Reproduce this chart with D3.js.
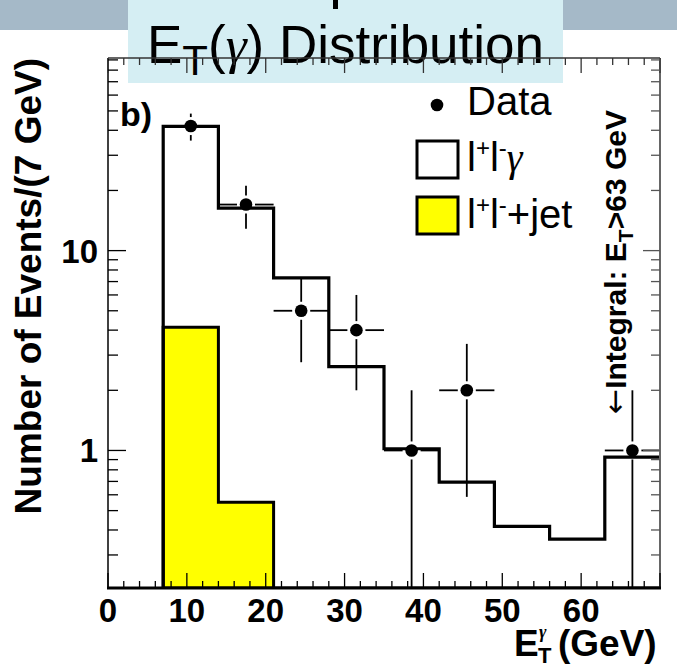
<!DOCTYPE html>
<html>
<head>
<meta charset="utf-8">
<script src="https://cdn.jsdelivr.net/npm/d3@7"></script>
<style>
  html, body { margin: 0; padding: 0; background: #fff; }
  svg { display: block; }
  text { font-family: "Liberation Sans", Arial, sans-serif; }
</style>
</head>
<body>
<div id="chart"></div>
<script>
// bin edges in GeV (7 GeV bins)
const binEdges = [7, 14, 21, 28, 35, 42, 49, 56, 63, 70]
// l+l-gamma expectation per bin
const llGamma = [41.8, 16.3, 7.3, 2.63, 1.02, 0.694, 0.417, 0.36, 0.926]
// l+l-+jet background per bin
const llJet = [4.14, 0.55, 0, 0, 0, 0, 0, 0, 0]
// observed events per bin
const dataCounts = [42, 17, 5, 4, 1, 2, 0, 0, 1]
// tick labels
const xTickLabels = [0, 10, 20, 30, 40, 50, 60]
const yTickLabels = [1, 10]

const W = 677, H = 669
const frame = { left: 108, right: 660, top: 58, bottom: 588 }
const serif = '"Liberation Serif", "DejaVu Serif", serif'

const svg = d3.select('#chart').append('svg')
  .attr('width', W)
  .attr('height', H)

// header band + title box
svg.append('rect').attr('x', 0).attr('y', 0).attr('width', W).attr('height', 30).attr('fill', '#a5b9c8')
svg.append('rect').attr('x', 128).attr('y', 0).attr('width', 435).attr('height', 83).attr('fill', '#d5eef3')
svg.append('rect').attr('x', 333).attr('y', 0).attr('width', 5).attr('height', 9).attr('fill', '#000')

const title = svg.append('text')
  .attr('x', 147).attr('y', 63)
  .attr('font-size', 53)
  .attr('fill', '#000')
title.append('tspan').text('E')
title.append('tspan').attr('font-size', 42).attr('dy', 12).text('T')
title.append('tspan').attr('dy', -12).text('(')
title.append('tspan').attr('font-family', serif).attr('font-style', 'italic').text('γ')
title.append('tspan').text(') Distribution')

// scales
const x = d3.scaleLinear().domain([0, 70]).range([frame.left, frame.right])
const y = d3.scaleLog().domain([0.205, 92]).range([frame.bottom, frame.top])

svg.append('defs').append('clipPath').attr('id', 'plot-clip')
  .append('rect')
  .attr('x', frame.left).attr('y', frame.top)
  .attr('width', frame.right - frame.left).attr('height', frame.bottom - frame.top)

const plot = svg.append('g').attr('clip-path', 'url(#plot-clip)')

// step outline from bin values
function stepPoints(values) {
  const pts = [[x(binEdges[0]), frame.bottom]]
  values.forEach((v, i) => {
    const yy = v > 0 ? y(v) : frame.bottom
    pts.push([x(binEdges[i]), yy])
    pts.push([x(binEdges[i + 1]), yy])
  })
  return pts
}

const line = d3.line()

// l+l-+jet filled histogram
const jetPts = stepPoints(llJet)
jetPts.push([x(binEdges[binEdges.length - 1]), frame.bottom])
plot.append('path')
  .attr('d', line(jetPts) + 'Z')
  .attr('fill', '#ffff00')
  .attr('stroke', '#000')
  .attr('stroke-width', 3)

// l+l-gamma histogram outline
plot.append('path')
  .attr('d', line(stepPoints(llGamma)))
  .attr('fill', 'none')
  .attr('stroke', '#000')
  .attr('stroke-width', 3.2)

// data points with poisson errors
const pts = dataCounts.map((n, i) => ({
  n,
  lo: binEdges[i],
  hi: binEdges[i + 1],
  c: (binEdges[i] + binEdges[i + 1]) / 2
})).filter(d => d.n > 0)

const gap = 9
const errG = plot.append('g').attr('stroke', '#000').attr('stroke-width', 1.8)
pts.forEach(d => {
  const cx = x(d.c), cy = y(d.n)
  const e = Math.sqrt(d.n)
  const yUp = y(d.n + e)
  const yLo = d.n - e > 0.205 ? y(d.n - e) : frame.bottom
  errG.append('line').attr('x1', x(d.lo)).attr('x2', cx - gap).attr('y1', cy).attr('y2', cy)
  errG.append('line').attr('x1', cx + gap).attr('x2', x(d.hi)).attr('y1', cy).attr('y2', cy)
  errG.append('line').attr('x1', cx).attr('x2', cx).attr('y1', yUp).attr('y2', cy - gap)
  errG.append('line').attr('x1', cx).attr('x2', cx).attr('y1', cy + gap).attr('y2', yLo)
})
plot.append('g').selectAll('circle')
  .data(pts)
  .join('circle')
  .attr('cx', d => x(d.c))
  .attr('cy', d => y(d.n))
  .attr('r', 6.3)
  .attr('fill', '#000')

// frame
const axG = svg.append('g')
axG.append('line').attr('x1', frame.left).attr('x2', frame.left).attr('y1', frame.top).attr('y2', frame.bottom)
  .attr('stroke', '#000').attr('stroke-width', 1.5)
axG.append('line').attr('x1', frame.left).attr('x2', frame.right).attr('y1', frame.top).attr('y2', frame.top)
  .attr('stroke', '#333').attr('stroke-width', 1.5)
axG.append('line').attr('x1', frame.right).attr('x2', frame.right).attr('y1', frame.top).attr('y2', frame.bottom)
  .attr('stroke', '#666').attr('stroke-width', 2)
axG.append('line').attr('x1', frame.left - 1).attr('x2', frame.right + 1).attr('y1', frame.bottom).attr('y2', frame.bottom)
  .attr('stroke', '#000').attr('stroke-width', 3)

// x ticks (bottom and top)
const xt = x.ticks(35)
axG.selectAll('.xtb').data(xt).join('line')
  .attr('x1', d => x(d)).attr('x2', d => x(d))
  .attr('y1', frame.bottom)
  .attr('y2', d => frame.bottom - (d % 10 === 0 ? 15 : 7))
  .attr('stroke', '#000').attr('stroke-width', 1.3)
axG.selectAll('.xtt').data(xt).join('line')
  .attr('x1', d => x(d)).attr('x2', d => x(d))
  .attr('y1', frame.top)
  .attr('y2', d => frame.top + (d % 10 === 0 ? 15 : 7))
  .attr('stroke', '#333').attr('stroke-width', 1.3)

// y ticks (left and right)
const yt = y.ticks()
const isMajor = d => Math.abs(Math.log10(d) - Math.round(Math.log10(d))) < 1e-6
axG.selectAll('.ytl').data(yt).join('line')
  .attr('x1', frame.left).attr('x2', d => frame.left + (isMajor(d) ? 18 : 10))
  .attr('y1', d => y(d)).attr('y2', d => y(d))
  .attr('stroke', '#000').attr('stroke-width', 1.3)
axG.selectAll('.ytr').data(yt).join('line')
  .attr('x1', frame.right).attr('x2', d => frame.right - (isMajor(d) ? 17 : 9))
  .attr('y1', d => y(d)).attr('y2', d => y(d))
  .attr('stroke', '#555').attr('stroke-width', 1.3)

// tick labels
svg.append('g').selectAll('text').data(xTickLabels).join('text')
  .attr('x', d => x(d)).attr('y', 622)
  .attr('text-anchor', 'middle')
  .attr('font-size', 33).attr('font-weight', 'bold')
  .text(d => d)
svg.append('g').selectAll('text').data(yTickLabels).join('text')
  .attr('x', 98).attr('y', d => y(d) + 12)
  .attr('text-anchor', 'end')
  .attr('font-size', 33).attr('font-weight', 'bold')
  .text(d => d)

// axis titles
svg.append('text')
  .attr('transform', `translate(41,${frame.top}) rotate(-90)`)
  .attr('text-anchor', 'end')
  .attr('font-size', 37).attr('font-weight', 'bold')
  .text('Number of Events/(7 GeV)')

const xTitle = svg.append('text').attr('x', 514).attr('y', 656)
  .attr('font-size', 37).attr('font-weight', 'bold')
xTitle.append('tspan').text('E')
xTitle.append('tspan').attr('x', 539).attr('dy', -18).attr('font-size', 18)
  .attr('font-family', serif).attr('font-style', 'italic').text('γ')
xTitle.append('tspan').attr('x', 538).attr('dy', 25).attr('font-size', 22).text('T')
xTitle.append('tspan').attr('x', 558).attr('dy', -7).text('(GeV)')

// panel tag
svg.append('text').attr('x', 120).attr('y', 126)
  .attr('font-size', 34).attr('font-weight', 'bold').text('b)')

// integral note
const note = svg.append('text')
  .attr('transform', 'translate(626,414) rotate(-90)')
  .attr('font-size', 30).attr('font-weight', 'bold')
note.append('tspan').attr('font-weight', 'normal')
  .attr('font-family', '"DejaVu Sans", sans-serif').attr('dy', -1).text('←')
note.append('tspan').attr('dy', 1).text('Integral: E')
note.append('tspan').attr('font-size', 21).attr('dy', 7).text('T')
note.append('tspan').attr('dy', -7).text('>63 GeV')

// legend
const leg = svg.append('g')
leg.append('circle').attr('cx', 437).attr('cy', 105).attr('r', 6.3).attr('fill', '#000')
leg.append('text').attr('x', 467).attr('y', 115).attr('font-size', 40).text('Data')
leg.append('rect').attr('x', 417).attr('y', 141).attr('width', 41).attr('height', 37)
  .attr('fill', '#fff').attr('stroke', '#000').attr('stroke-width', 3)
leg.append('rect').attr('x', 417).attr('y', 197).attr('width', 41).attr('height', 37)
  .attr('fill', '#ffff00').attr('stroke', '#000').attr('stroke-width', 3)

function leptonPair(t) {
  t.append('tspan').text('l')
  t.append('tspan').attr('font-size', 24).attr('dy', -15).text('+')
  t.append('tspan').attr('dy', 15).text('l')
  t.append('tspan').attr('font-size', 24).attr('dy', -15).text('-')
}
const l1 = leg.append('text').attr('x', 467).attr('y', 171).attr('font-size', 40)
leptonPair(l1)
l1.append('tspan').attr('dy', 15)
  .attr('font-family', serif).attr('font-style', 'italic').text('γ')
const l2 = leg.append('text').attr('x', 467).attr('y', 228).attr('font-size', 40)
leptonPair(l2)
l2.append('tspan').attr('dy', 15).text('+jet')
</script>
</body>
</html>
